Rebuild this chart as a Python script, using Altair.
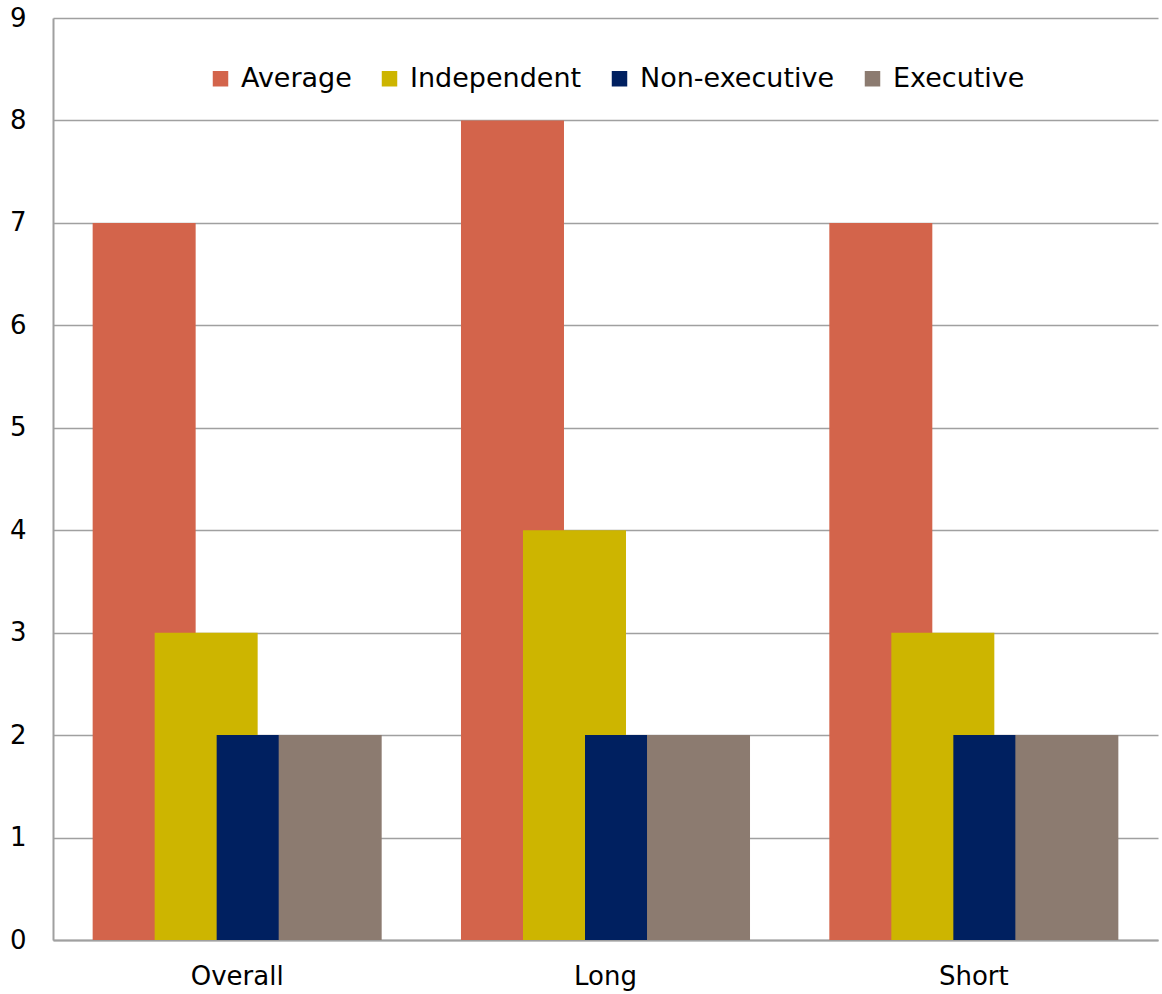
import altair as alt
import pandas as pd

categories = ["Overall", "Long", "Short"]
series = ["Average", "Independent", "Non-executive", "Executive"]
average = [7, 8, 7]
independent = [3, 4, 3]
non_executive = [2, 2, 2]
executive = [2, 2, 2]
colors = ["#D3644B", "#CDB500", "#002060", "#8C7B70"]

rows = []
for i, c in enumerate(categories):
    for s, vals in zip(series, [average, independent, non_executive, executive]):
        rows.append({"category": c, "series": s, "value": vals[i]})
df = pd.DataFrame(rows)

font = "DejaVu Sans"

chart = alt.Chart(df).mark_bar(width=103).encode(
    x=alt.X("category:N", sort=categories, title=None,
            scale=alt.Scale(paddingInner=0, paddingOuter=0),
            axis=alt.Axis(labelAngle=0, labelFontSize=26, labelColor="#000000",
                          labelFont=font, ticks=False, labelPadding=23,
                          domainColor="#A0A0A0", domainWidth=2)),
    xOffset=alt.XOffset("series:N", sort=series,
                        scale=alt.Scale(paddingInner=0, paddingOuter=0.97)),
    y=alt.Y("value:Q", title=None,
            scale=alt.Scale(domain=[0, 9], nice=False),
            axis=alt.Axis(values=list(range(10)), labelFontSize=26, labelColor="#000000",
                          labelFont=font, ticks=False, labelPadding=27,
                          domainColor="#A0A0A0", domainWidth=2,
                          gridColor="#A0A0A0", gridWidth=1.5)),
    color=alt.Color("series:N", sort=series,
                    scale=alt.Scale(domain=series, range=colors),
                    legend=alt.Legend(title=None, orient="none", direction="horizontal",
                                      legendX=154, legendY=47, symbolType="square",
                                      symbolSize=240, symbolStrokeWidth=0,
                                      labelFontSize=27, labelFont=font, labelLimit=0,
                                      labelColor="#000000", columnPadding=24,
                                      labelOffset=7)),
    order=alt.Order("order:Q"),
).transform_calculate(
    order="indexof(['Average','Independent','Non-executive','Executive'], datum.series)"
).properties(
    width=1105, height=922,
    autosize=alt.AutoSizeParams(type="none"),
    padding={"left": 53, "top": 18, "right": 4, "bottom": 54},
    background="#FFFFFF",
).configure_view(stroke=None)

chart.save("out.html", embed_options={"renderer": "svg", "actions": False})
